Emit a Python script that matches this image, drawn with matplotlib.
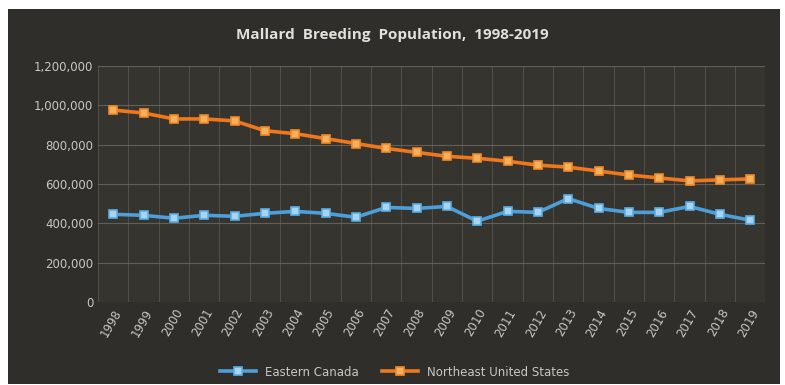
import matplotlib.pyplot as plt
from matplotlib.ticker import FuncFormatter
import numpy as np

years = [str(y) for y in range(1998, 2020)]
eastern_canada = [445000, 440000, 425000, 440000, 435000, 450000, 460000, 450000,
                  430000, 480000, 475000, 485000, 410000, 460000, 455000, 525000,
                  475000, 455000, 455000, 485000, 445000, 415000]
northeast_us = [975000, 960000, 930000, 930000, 920000, 870000, 855000, 830000,
                805000, 780000, 760000, 740000, 730000, 715000, 695000, 685000,
                665000, 645000, 630000, 615000, 620000, 625000]

bg = "#302e2a"
txt = "#c9c7c1"

fig = plt.figure(figsize=(7.85, 3.85), dpi=100)
fig.patch.set_facecolor("white")

# dark panel behind everything
back = fig.add_axes([8 / 785, 1 / 385, 772 / 785, 375 / 385], zorder=-10)
back.set_facecolor(bg)
back.set_xticks([])
back.set_yticks([])
for s in back.spines.values():
    s.set_visible(False)

ax = fig.add_axes([0.125, 0.216, 0.85, 0.613], zorder=1)
ax.set_facecolor("#36342f")
x = np.arange(len(years))

ax.plot(x, eastern_canada, color="#4d9fda", lw=2.6, marker="s", ms=6,
        mfc="#a9d3ef", mec="#5aaee6", mew=1.2, label="Eastern Canada", zorder=3)
ax.plot(x, northeast_us, color="#f0781c", lw=2.6, marker="s", ms=6,
        mfc="#f4b15c", mec="#f08a2a", mew=1.2, label="Northeast United States", zorder=3)

ax.set_xlim(-0.5, len(years) - 0.5)
ax.set_ylim(0, 1200000)
ax.set_yticks(range(0, 1200001, 200000))
ax.yaxis.set_major_formatter(FuncFormatter(lambda v, p: f"{int(v):,}"))
ax.set_xticks(x)
ax.set_xticklabels(years, rotation=60, ha="right", rotation_mode="anchor")
ax.grid(True, axis="y", color="#6c6a63", lw=0.8, alpha=0.8)
ax.set_xticks(np.arange(-0.5, len(years), 1), minor=True)
ax.grid(True, axis="x", which="minor", color="#5f5d57", lw=0.7, alpha=0.7)
ax.set_axisbelow(True)
for s in ax.spines.values():
    s.set_visible(False)
ax.tick_params(axis="both", which="both", length=0, colors=txt, labelsize=8.5)

fig.text(0.5, 0.91, "Mallard  Breeding  Population,  1998-2019", ha="center",
         va="center", color="#e2e0da", fontsize=11, fontweight="bold",
         family="Open Sans")

leg = fig.legend(loc="center", bbox_to_anchor=(395 / 785, 1 - 372 / 385), ncol=2,
                 frameon=False, fontsize=8.5, handlelength=3, columnspacing=2)
for t in leg.get_texts():
    t.set_color(txt)

fig.savefig("out.png", dpi=100, facecolor=fig.get_facecolor())
